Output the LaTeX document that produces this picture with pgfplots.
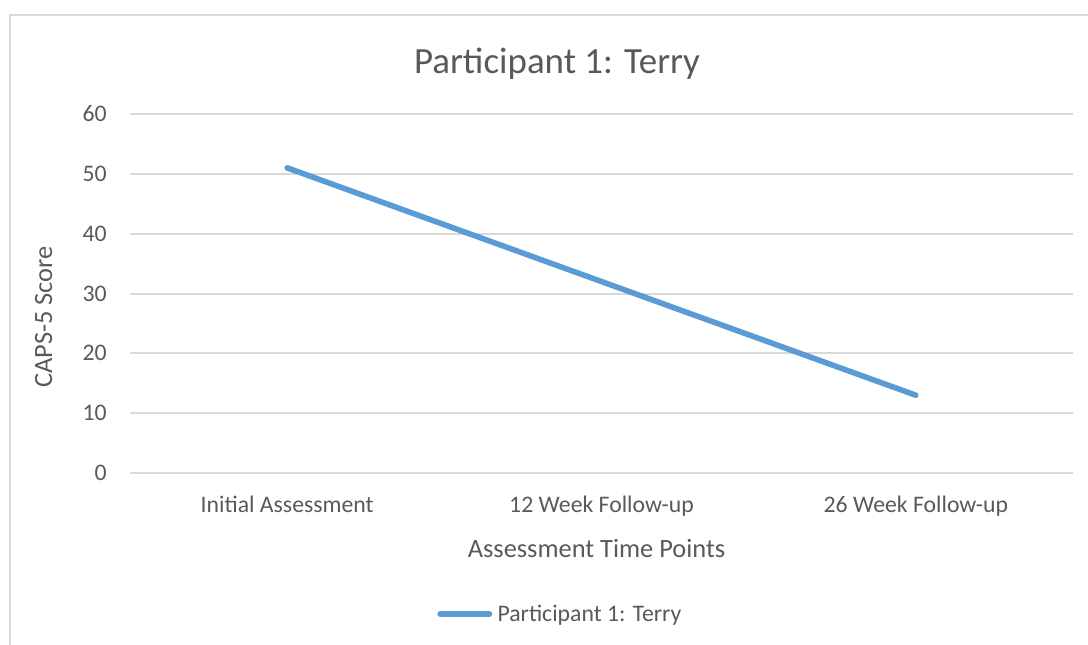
\documentclass[border=0pt]{standalone}
\usepackage{pgfplots}
\pgfplotsset{compat=1.18}
\usepackage{fontspec}
\setmainfont{Carlito}
\definecolor{txt}{HTML}{595959}
\definecolor{gridc}{HTML}{D9D9D9}
\definecolor{linec}{HTML}{5B9BD5}
\begin{document}
\begin{tikzpicture}
\path[use as bounding box] (0pt,0pt) rectangle (816pt,483pt);
\begin{scope}
\clip (0pt,0pt) rectangle (816pt,483pt);
\draw[gridc, line width=1.2pt] (7.5pt,-15pt) rectangle (832pt,471.75pt);
\end{scope}
\begin{axis}[
  at={(97.5pt,128.25pt)}, anchor=south west,
  scale only axis, width=707.25pt, height=269.25pt,
  xmin=-0.5, xmax=2.5, ymin=0, ymax=60,
  xtick={0,1,2},
  xticklabels={Initial Assessment,12 Week Follow-up,26 Week Follow-up},
  ytick={0,10,20,30,40,50,60},
  ymajorgrids,
  grid style={gridc, line width=1.5pt},
  axis line style={draw=none},
  major tick length=0pt,
  tick style={draw=none},
  /pgf/number format/assume math mode=true,
  ticklabel style={font=\fontsize{17.8}{20}\selectfont, text=txt},
  yticklabel style={anchor=east, inner sep=0pt, xshift=-17.25pt},
  xticklabel style={anchor=base, inner sep=0pt, yshift=-29.25pt},
  title={Participant 1: Terry},
  title style={font=\fontsize{27.7}{32}\selectfont, text=txt, at={(rel axis cs:0.4528,1.090)}, anchor=base, inner sep=0pt},
  xlabel={Assessment Time Points},
  xlabel style={font=\fontsize{19.8}{23}\selectfont, text=txt, at={(rel axis cs:0.4947,-0.234)}, anchor=base, inner sep=0pt},
  ylabel={CAPS-5 Score},
  ylabel style={font=\fontsize{19.8}{23}\selectfont, text=txt, at={(rel axis cs:-0.0827,0.4345)}, anchor=base, inner sep=0pt},
  legend style={at={(rel axis cs:0.3256,-0.3928)}, anchor=west, draw=none, fill=none, inner sep=0pt,
     font=\fontsize{17.8}{20}\selectfont, text=txt,
     nodes={inner sep=0pt}},
  legend image code/.code={\draw[line width=4.2pt, line cap=round, #1] (2pt,0pt) -- (39pt,0pt);},
  legend cell align=left,
]
\addplot[linec, line width=4.2pt, line cap=round, line join=round] coordinates {(0,51) (1,32) (2,13)};
\addlegendentry{\hspace{4pt}Participant 1: Terry}
\end{axis}
\end{tikzpicture}
\end{document}
